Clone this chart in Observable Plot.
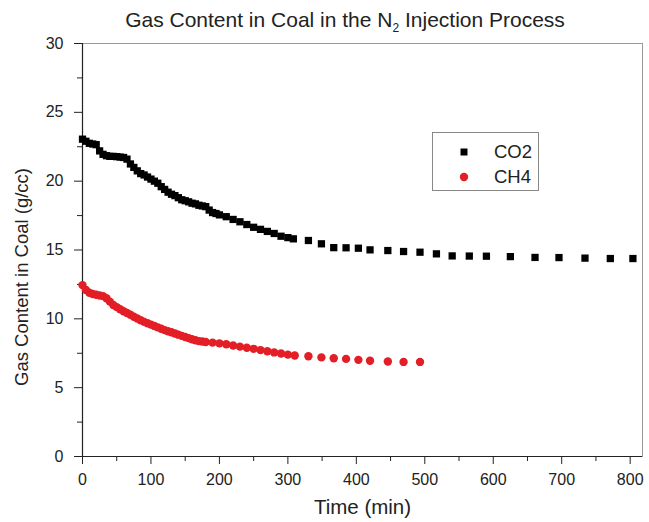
<!DOCTYPE html>
<html>
<head>
<meta charset="utf-8">
<script src="https://cdn.jsdelivr.net/npm/d3@7"></script>
<script src="https://cdn.jsdelivr.net/npm/@observablehq/plot@0.6"></script>
<style>
  html, body { margin: 0; padding: 0; background: #fff; }
  #wrap { position: relative; width: 649px; height: 522px; background: #fff; font-family: "Liberation Sans", Arial, Helvetica, sans-serif; color: #222; }
  #title { height: 34px; position: relative; }
  #title span { position: absolute; left: 45px; width: 600px; top: 9px; text-align: center; font-size: 21px; line-height: 22px; white-space: nowrap; }
  #title sub { font-size: 12px; vertical-align: -5px; line-height: 0; }
  #legend { position: absolute; left: 432px; top: 132px; width: 107px; height: 59px; border: 1px solid #888; box-sizing: border-box; background: #fff; }
  #legend .row { position: absolute; left: 0; height: 20px; width: 100%; font-size: 18.5px; line-height: 20px; }
  #legend svg { position: absolute; left: 21px; top: 0; }
  #legend .lab { position: absolute; left: 61px; top: 0; }
</style>
</head>
<body>
<div id="wrap">
  <div id="title"><span>Gas Content in Coal in the N<sub>2</sub> Injection Process</span></div>
  <div id="chart"></div>
  <div id="legend">
    <div class="row" style="top:9px"><svg width="20" height="20"><rect x="6.5" y="6.5" width="7" height="7" fill="#000"/></svg><span class="lab">CO2</span></div>
    <div class="row" style="top:34px"><svg width="20" height="20"><circle cx="10" cy="10" r="4.2" fill="#e41e26"/></svg><span class="lab">CH4</span></div>
  </div>
</div>
<script>
// ---- data ----
const co2Time = [0,5,10,15,20,25,30,35,40,45,50,55,60,65,70,75,80,85,90,95,100,105,110,115,120,125,130,135,140,145,150,155,160,165,170,175,180,185,190,195,200,210,220,230,240,250,260,270,280,290,300,308,330,349,367,385,403,420,446,469,493,517,540,565,590,625,661,696,734,771,804];
const co2Value = [23.05,22.9,22.75,22.7,22.65,22.2,21.95,21.85,21.8,21.8,21.78,21.75,21.72,21.6,21.25,21.0,20.75,20.55,20.45,20.3,20.15,20.0,19.85,19.6,19.4,19.2,19.05,18.95,18.8,18.65,18.58,18.5,18.4,18.35,18.25,18.2,18.15,17.9,17.72,17.65,17.55,17.42,17.22,17.05,16.85,16.65,16.5,16.35,16.2,16.0,15.9,15.81,15.69,15.45,15.17,15.16,15.13,15.01,14.96,14.89,14.84,14.72,14.57,14.56,14.55,14.52,14.46,14.45,14.41,14.38,14.38];

const ch4Time = [0,5,10,15,20,25,30,35,40,45,50,55,60,65,70,75,80,85,90,95,100,105,110,115,120,125,130,135,140,145,150,155,160,165,170,175,180,190,200,210,220,230,240,250,260,270,280,290,300,310,330,349,367,385,403,420,446,469,493];
const ch4Value = [12.45,12.1,11.9,11.8,11.75,11.7,11.65,11.5,11.25,11.0,10.85,10.7,10.55,10.42,10.3,10.15,10.02,9.9,9.78,9.68,9.58,9.48,9.38,9.28,9.18,9.1,9.02,8.93,8.85,8.76,8.68,8.6,8.52,8.44,8.38,8.35,8.32,8.27,8.22,8.15,8.06,7.98,7.9,7.82,7.73,7.65,7.56,7.48,7.4,7.34,7.28,7.2,7.14,7.09,7.02,6.95,6.9,6.87,6.87];

const xMajorTicks = [0,100,200,300,400,500,600,700,800];
const xMinorTicks = [50,150,250,350,450,550,650,750];
const yMajorTicks = [0,5,10,15,20,25,30];
const yMinorTicks = [2.5,7.5,12.5,17.5,22.5,27.5];
const xLabel = "Time (min)";
const yLabel = "Gas Content in Coal (g/cc)";

const co2 = co2Time.map((t, i) => ({t, v: co2Value[i]}));
const ch4 = ch4Time.map((t, i) => ({t, v: ch4Value[i]}));

const font = '"Liberation Sans", Arial, Helvetica, sans-serif';

const chart = Plot.plot({
  width: 649,
  height: 488,
  marginLeft: 82,
  marginRight: 7,
  marginTop: 9,
  marginBottom: 66,
  x: {domain: [0, 818]},
  y: {domain: [0, 30]},
  style: {fontFamily: font, fontSize: "16px", color: "#222", background: "#fff", overflow: "visible"},
  marks: [
    Plot.frame({stroke: "#999", strokeWidth: 1}),
    Plot.axisX({ticks: xMinorTicks, tickSize: 5, text: null, label: null, stroke: "#222"}),
    Plot.axisX({ticks: xMajorTicks, tickSize: 8, tickPadding: 9, label: null, fontSize: 16, tickFormat: d => String(d), stroke: "#222"}),
    Plot.axisY({ticks: yMinorTicks, tickSize: 5, text: null, label: null, stroke: "#222"}),
    Plot.axisY({ticks: yMajorTicks, tickSize: 8, tickPadding: 11, label: null, fontSize: 16, tickFormat: d => String(d), stroke: "#222"}),
    Plot.ruleX([0], {stroke: "#222", strokeWidth: 1.2}),
    Plot.ruleY([0], {stroke: "#222", strokeWidth: 1.2}),
    Plot.dot(co2, {x: "t", y: "v", symbol: "square", r: 4.1, fill: "#000", stroke: null}),
    Plot.dot(ch4, {x: "t", y: "v", symbol: "circle", r: 4.2, fill: "#e41e26", stroke: null}),
    Plot.text([xLabel], {frameAnchor: "bottom", textAnchor: "middle", dy: 57, fontSize: 20.5, fill: "#222"}),
    Plot.text([yLabel], {frameAnchor: "left", textAnchor: "middle", rotate: -90, dx: -60, dy: 27, fontSize: 18.5, fill: "#222"})
  ]
});
document.getElementById("chart").appendChild(chart);
</script>
</body>
</html>
